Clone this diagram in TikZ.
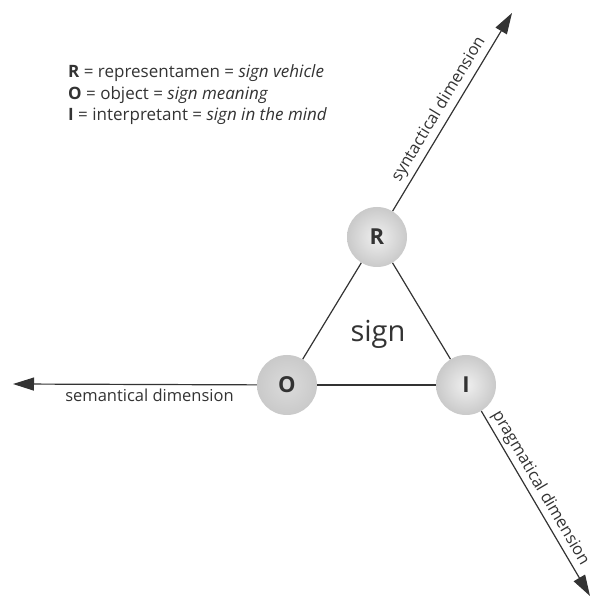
\documentclass[tikz,border=0pt]{standalone}
\usepackage{fontspec}
\setmainfont{Open Sans}
\usetikzlibrary{arrows.meta}

\definecolor{ink}{HTML}{333333}

\tikzset{
    pole/.style={circle, minimum size=60pt, inner sep=0pt,
        inner color=gray!12, outer color=gray!42,
        font=\fontsize{22}{22}\selectfont\bfseries, text=ink},
    side/.style={line width=1.2pt, ink},
    axis/.style={side, -{Triangle[length=21pt, width=13pt]}},
    dimlabel/.style={font=\fontsize{16.5}{16.5}\selectfont, text=ink, inner sep=4pt}
}

\begin{document}
\begin{tikzpicture}[x=1pt, y=1pt]
    \useasboundingbox (0,0) rectangle (591,605);

    % the three poles of the sign
    \node[pole] (R) at (377,368) {R};
    \node[pole, inner color=gray!28, outer color=gray!42] (O) at (287,220) {O};
    \node[pole] (I) at (466,220) {I};

    % free ends of the dimension axes
    \coordinate (syntip) at (512,592);
    \coordinate (semtip) at (13,221);
    \coordinate (pragtip) at (590,9);

    \draw[side] (R) -- (O);
    \draw[side] (O) -- (I);
    \draw[side] (I) -- (R);

    \draw[axis] (R) -- (syntip)
        node[dimlabel, pos=0.48, sloped, above] {syntactical dimension};
    \draw[axis] (O) -- (semtip)
        node[dimlabel, pos=0.44, below] {semantical dimension};
    \draw[axis] (I) -- (pragtip)
        node[dimlabel, pos=0.45, sloped, above, inner sep=3pt] {pragmatical dimension};

    \node[font=\fontsize{29}{29}\selectfont, text=ink, anchor=base] (sign) at (378,263) {sign};

    % key to the letters
    \node[font=\fontsize{17}{21.5}\selectfont, text=ink, align=left,
          anchor=base west, inner sep=0pt] (legend) at (68,484)
        {\textbf{R} = representamen = \textit{sign vehicle}\\
         \textbf{O} = object = \textit{sign meaning}\\
         \textbf{I} = interpretant = \textit{sign in the mind}};
\end{tikzpicture}
\end{document}
